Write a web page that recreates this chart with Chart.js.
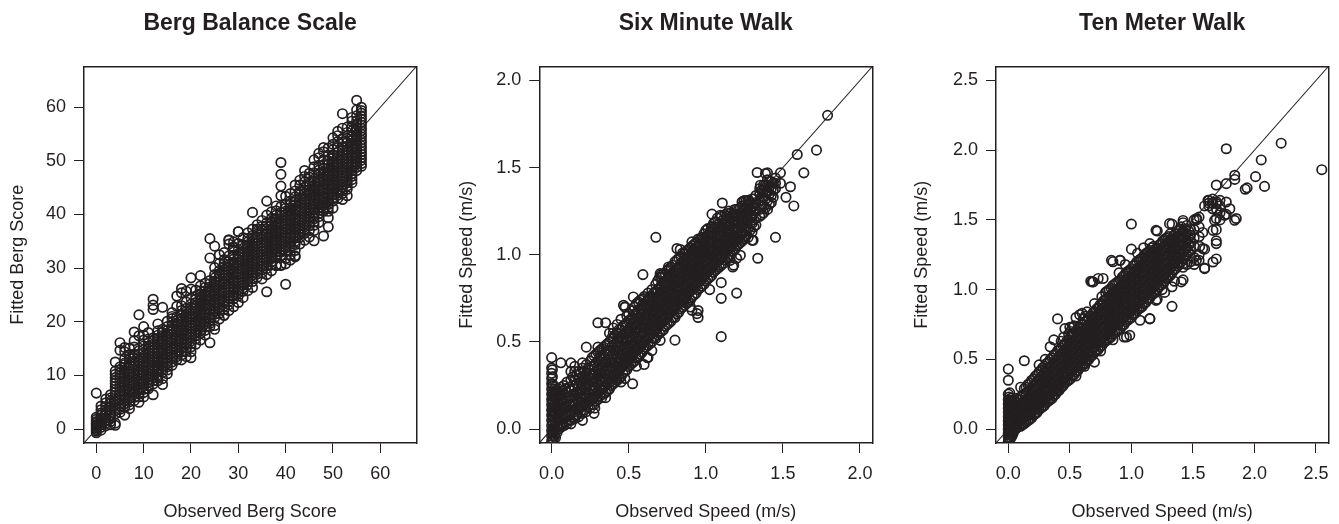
<!DOCTYPE html>
<html>
<head>
<meta charset="utf-8">
<script src="https://cdn.jsdelivr.net/npm/chart.js@4.4.1/dist/chart.umd.min.js"></script>
<style>
  body { margin: 0; background: #fff; width: 1339px; height: 524px; position: relative; overflow: hidden; }
  canvas { position: absolute; top: 0; }
</style>
</head>
<body>
<canvas id="berg" width="440" height="524" style="left:0px"></canvas>
<canvas id="six" width="445" height="524" style="left:440px"></canvas>
<canvas id="ten" width="454" height="524" style="left:885px"></canvas>
<script>
// Berg Balance Scale: observed score (integer) and the fitted scores seen in that column
var bergObserved = [0,1,2,3,4,5,6,7,8,9,10,11,12,13,14,15,16,17,18,19,20,21,22,23,24,25,26,27,28,29,30,31,32,33,34,35,36,37,38,39,40,41,42,43,44,45,46,47,48,49,50,51,52,53,54,55,56];
var bergFitted = [
  [-0.7,-0.4,-0.1,0.2,0.5,0.8,1.1,1.4,1.8,2.2,6.7],
  [-0.2,0.3,0.8,1.2,1.7,2.1,2.6,3.0,4.3],
  [0.6,1.1,1.6,2.1,2.6,3.1,3.6,4.2,4.9],
  [1.4,1.9,2.5,3.0,3.6,4.1,4.7,5.2,5.8,6.4],
  [0.7,1.1,2.8,3.4,3.9,4.5,5.1,5.6,6.2,6.8,7.3,7.9,8.5,9.0,9.6,10.2,10.8,12.5],
  [3.1,3.7,4.3,4.8,5.4,6.0,6.5,7.1,7.7,8.2,8.8,9.4,9.9,10.5,11.1,11.6,14.7,16.1],
  [2.6,4.1,4.7,5.3,5.8,6.4,7.0,7.5,8.1,8.7,9.2,9.8,10.4,10.9,11.5,12.3,13.1,14.4,15.2],
  [4.5,5.1,5.7,6.2,6.8,7.4,7.9,8.5,9.1,9.6,10.2,10.8,11.3,11.9,12.5,13.2,13.9,15.1],
  [5.3,5.9,6.5,7.0,7.6,8.2,8.7,9.3,9.9,10.4,11.0,11.6,12.1,12.7,13.3,14.0,15.3,18.1],
  [6.0,6.6,7.2,7.7,8.3,8.9,9.4,10.0,10.6,11.1,11.7,12.3,12.8,13.4,14.0,14.6,17.4,21.3],
  [6.8,7.4,8.0,8.5,9.1,9.7,10.2,10.8,11.4,11.9,12.5,13.1,13.6,14.2,14.8,15.5,16.6,19.1],
  [7.5,8.1,8.7,9.2,9.8,10.4,10.9,11.5,12.1,12.6,13.2,13.8,14.3,14.9,15.5,16.1,18.0],
  [6.4,8.4,9.0,9.6,10.1,10.7,11.3,11.8,12.4,13.0,13.5,14.1,14.7,15.2,15.8,16.4,17.0,22.3,23.1,24.2],
  [9.5,10.1,10.7,11.2,11.8,12.4,12.9,13.5,14.1,14.6,15.2,15.8,16.3,16.9,17.5,18.3,19.6],
  [9.4,10.6,11.2,11.7,12.3,12.9,13.4,14.0,14.6,15.1,15.7,16.3,16.8,17.4,18.0,18.6,22.7],
  [11.0,11.6,12.2,12.7,13.3,13.9,14.4,15.0,15.6,16.1,16.7,17.3,17.8,18.4,19.1,20.1],
  [11.9,12.5,13.1,13.6,14.2,14.8,15.3,15.9,16.5,17.0,17.6,18.2,18.7,19.3,19.9,20.6,21.7],
  [12.9,13.5,14.0,14.6,15.2,15.7,16.3,16.9,17.4,18.0,18.6,19.1,19.7,20.3,20.9,22.9,24.8],
  [12.9,13.8,14.4,15.0,15.5,16.1,16.7,17.2,17.8,18.4,18.9,19.5,20.1,20.6,21.2,22.1,25.4,26.2],
  [14.5,15.1,15.7,16.2,16.8,17.4,17.9,18.5,19.1,19.6,20.2,20.8,21.3,21.9,22.5,23.7,25.7],
  [14.4,15.3,15.9,16.4,17.0,17.6,18.1,18.7,19.3,19.8,20.4,21.0,21.5,22.1,22.7,23.3,24.4,26.1,28.2],
  [16.8,17.4,17.9,18.5,19.1,19.6,20.2,20.8,21.3,21.9,22.5,23.0,23.6,24.2,24.8,25.9],
  [17.8,18.4,18.9,19.5,20.1,20.6,21.2,21.8,22.3,22.9,23.5,24.0,24.6,25.2,25.8,26.7,28.6],
  [18.4,19.0,19.6,20.1,20.7,21.3,21.8,22.4,23.0,23.5,24.1,24.7,25.2,25.8,26.4,27.2],
  [16.1,19.1,19.7,20.3,20.8,21.4,22.0,22.5,23.1,23.7,24.2,24.8,25.4,25.9,26.5,27.1,27.7,31.9,35.5],
  [19.3,20.8,21.4,21.9,22.5,23.1,23.6,24.2,24.8,25.3,25.9,26.5,27.0,27.6,28.2,28.8,30.1,34.1],
  [21.6,22.2,22.7,23.3,23.9,24.4,25.0,25.6,26.1,26.7,27.3,27.8,28.4,29.0,29.6,30.9,32.5],
  [21.2,22.3,22.9,23.5,24.0,24.6,25.2,25.7,26.3,26.9,27.4,28.0,28.6,29.1,29.7,30.3,31.6,32.9],
  [23.2,23.8,24.4,24.9,25.5,26.1,26.6,27.2,27.8,28.3,28.9,29.5,30.0,30.6,31.2,32.3,34.5,35.3],
  [22.8,24.3,24.9,25.5,26.0,26.6,27.2,27.7,28.3,28.9,29.4,30.0,30.6,31.1,31.7,32.4,33.4,34.9],
  [24.8,25.4,25.9,26.5,27.1,27.6,28.2,28.8,29.3,29.9,30.5,31.0,31.6,32.2,32.7,33.4,34.6,36.8],
  [25.7,26.3,26.8,27.4,28.0,28.5,29.1,29.7,30.2,30.8,31.4,31.9,32.5,33.1,33.7,34.4,35.7],
  [26.9,27.5,28.0,28.6,29.2,29.7,30.3,30.9,31.4,32.0,32.6,33.1,33.7,34.3,34.9,35.5,36.6],
  [27.5,28.1,28.7,29.2,29.8,30.4,30.9,31.5,32.1,32.6,33.2,33.8,34.3,34.9,35.5,36.1,37.3,40.4],
  [28.3,28.9,29.5,30.0,30.6,31.2,31.7,32.3,32.9,33.4,34.0,34.6,35.1,35.7,36.3,36.9,38.1],
  [29.1,29.7,30.3,30.8,31.4,32.0,32.5,33.1,33.7,34.2,34.8,35.4,35.9,36.5,37.1,37.8,38.9],
  [25.6,29.9,30.5,31.1,31.6,32.2,32.8,33.3,33.9,34.5,35.0,35.6,36.2,36.7,37.3,37.9,38.5,39.9,42.5],
  [30.6,31.2,31.8,32.3,32.9,33.5,34.0,34.6,35.2,35.7,36.3,36.9,37.4,38.0,38.6,39.3,40.5],
  [30.5,31.9,32.5,33.0,33.6,34.2,34.7,35.3,35.9,36.4,37.0,37.6,38.1,38.7,39.3,39.9,40.7],
  [30.6,32.4,33.0,33.5,34.1,34.7,35.2,35.8,36.4,36.9,37.5,38.1,38.6,39.2,39.8,40.4,41.5,43.5,45.3,47.5,49.7],
  [27.0,31.8,33.2,33.8,34.3,34.9,35.5,36.0,36.6,37.2,37.7,38.3,38.9,39.4,40.0,40.6,41.2,41.9,43.4],
  [32.5,33.9,34.5,35.0,35.6,36.2,36.7,37.3,37.9,38.4,39.0,39.6,40.1,40.7,41.3,41.9,42.5,43.9],
  [32.3,34.4,35.0,35.6,36.1,36.7,37.3,37.8,38.4,39.0,39.5,40.1,40.7,41.2,41.8,42.4,43.3,44.4],
  [35.7,36.3,36.9,37.4,38.0,38.6,39.1,39.7,40.3,40.8,41.4,42.0,42.5,43.1,43.7,44.3,45.5,46.4],
  [36.5,37.1,37.7,38.2,38.8,39.4,39.9,40.5,41.1,41.6,42.2,42.8,43.3,43.9,44.5,45.1,46.1,47.1],
  [37.0,37.9,38.5,39.0,39.6,40.2,40.7,41.3,41.9,42.4,43.0,43.6,44.1,44.7,45.3,45.9,47.0,47.7],
  [35.1,38.0,38.6,39.2,39.7,40.3,40.9,41.4,42.0,42.6,43.1,43.7,44.3,44.8,45.4,46.0,46.6,47.8,48.9,50.2],
  [39.6,40.2,40.8,41.3,41.9,42.5,43.0,43.6,44.2,44.7,45.3,45.9,46.4,47.0,47.6,48.3,49.2,50.6,51.4],
  [36.0,40.6,41.2,41.7,42.3,42.9,43.4,44.0,44.6,45.1,45.7,46.3,46.8,47.4,48.0,48.6,49.3,50.2,51.7],
  [37.7,40.6,41.3,41.9,42.4,43.0,43.6,44.1,44.7,45.3,45.8,46.4,47.0,47.5,48.1,48.7,49.3,50.0,51.1,52.4],
  [42.5,43.1,43.7,44.2,44.8,45.4,45.9,46.5,47.1,47.6,48.2,48.8,49.3,49.9,50.5,51.1,52.1,53.1,54.3],
  [43.0,43.6,44.2,44.7,45.3,45.9,46.4,47.0,47.6,48.1,48.7,49.3,49.8,50.4,51.0,51.6,52.5,53.6,54.7],
  [43.9,44.5,45.1,45.6,46.2,46.8,47.3,47.9,48.5,49.0,49.6,50.2,50.7,51.3,51.9,52.5,53.5,54.2,56.1,58.8],
  [44.7,45.3,45.9,46.4,47.0,47.6,48.1,48.7,49.3,49.8,50.4,51.0,51.5,52.1,52.7,53.4,54.2,55.3,56.3],
  [45.9,46.5,47.1,47.6,48.2,48.8,49.3,49.9,50.5,51.0,51.6,52.2,52.7,53.3,53.9,54.5,55.6,56.3,57.4],
  [48.2,48.8,49.4,49.9,50.5,51.1,51.6,52.2,52.8,53.3,53.9,54.5,55.0,55.6,56.2,56.8,57.5,58.4,59.5,61.3],
  [49.0,49.5,50.1,50.6,51.2,51.7,52.3,52.8,53.4,53.9,54.5,55.0,55.6,56.1,56.7,57.2,57.8,58.3,58.9,59.4,60.0]
];
// scattered Berg points at the fringe of the band
var bergLooseX = [8,10,11,13,15,16,18,19,21,23,26,27,29,31,32,34,35,37,38,41,42,43,44,45,47,48,50,51,53,54,7,9,6,10,3,2,1,14,20,22,25,28,30,33,36,40,44,46,49,52,30,28,29,42,42,38,39,27];
var bergLooseY = [16.5,17.5,16.8,9.0,10.3,21.0,23.0,13.5,15.8,17.5,20.5,30.8,33.8,24.5,25.8,37.3,28.0,29.5,41.6,31.5,45.5,34.5,48.2,35.8,38.5,52.5,41.2,55.5,43.5,58.1,3.8,5.0,12.0,6.0,0.8,5.6,3.6,8.3,13.3,16.6,18.6,22.1,23.6,26.4,28.8,30.8,35.2,37.0,39.4,42.8,36.8,35.2,34.0,32.1,33.3,30.5,30.5,21.2];
var bergRange = [-2.6, 67.6];
var bergTicks = [0, 10, 20, 30, 40, 50, 60];

// Six Minute Walk: observed speed (m/s) and fitted speeds at that observed value
var sixObserved = [0,0.01,0.025,0.045,0.06,0.08,0.1,0.125,0.15,0.175,0.2,0.225,0.25,0.275,0.3,0.325,0.35,0.375,0.4,0.425,0.45,0.475,0.5,0.525,0.55,0.575,0.6,0.625,0.65,0.675,0.7,0.725,0.75,0.775,0.8,0.825,0.85,0.875,0.9,0.925,0.95,0.975,1.0,1.025,1.05,1.075,1.1,1.125,1.15,1.175,1.2,1.225,1.25,1.275,1.3,1.325,1.337,1.35,1.375,1.4,1.425,1.452,1.484,1.52,1.549,1.571,1.593,1.636,1.718,1.79,0.676,0.592,0.466,0.71,0.77,0.834,1.04,1.107,1.333,1.247,1.307,0.62,
  0.005,0.018,0.035,0.053,0.07,0.09,0.1125,0.1375,0.1625,0.1875,0.2125,0.2375,0.2625,0.2875,0.3125,0.3375,0.3625,0.3875,0.4125,0.4375,0.4625,0.4875,0.5125,0.5375,0.5625,0.5875,0.6125,0.6375,0.6625,0.6875,0.7125,0.7375,0.7625,0.7875,0.8125,0.8375,0.8625,0.8875,0.9125,0.9375,0.9625,0.9875,1.0125,1.0375,1.0625,1.0875,1.1125,1.1375,1.1625,1.1875,1.2125,1.2375,1.2625,1.2875,1.3125,1.3625,1.3875,1.4125,1.4375];
var sixFitted = [
  [-0.07,-0.04,-0.01,0.02,0.05,0.08,0.11,0.14,0.17,0.2,0.23,0.26,0.29,0.32,0.35,0.41],
  [-0.06,-0.02,0.03,0.07,0.12,0.16,0.21,0.25],
  [-0.05,0.0,0.04,0.09,0.13,0.18,0.22],
  [0.0,0.05,0.09,0.14,0.19,0.23],
  [0.01,0.06,0.1,0.15,0.19,0.24,0.38],
  [0.02,0.06,0.11,0.15,0.2,0.25],
  [0.03,0.07,0.12,0.16,0.21,0.27],
  [0.03,0.05,0.09,0.13,0.18,0.22,0.28,0.33,0.38],
  [0.06,0.1,0.14,0.19,0.23,0.28,0.33],
  [0.07,0.11,0.16,0.2,0.25,0.29,0.33],
  [0.09,0.13,0.17,0.22,0.26,0.3,0.35],
  [0.1,0.14,0.19,0.23,0.28,0.32,0.37,0.47],
  [0.12,0.16,0.2,0.25,0.29,0.34,0.39],
  [0.09,0.14,0.18,0.22,0.27,0.31,0.36,0.42],
  [0.17,0.21,0.26,0.3,0.34,0.39,0.44,0.61],
  [0.18,0.23,0.27,0.32,0.36,0.4,0.46],
  [0.21,0.25,0.29,0.34,0.38,0.43,0.48,0.61],
  [0.23,0.27,0.31,0.36,0.4,0.45,0.5,0.55],
  [0.26,0.3,0.34,0.38,0.43,0.47,0.52,0.58],
  [0.28,0.32,0.36,0.41,0.45,0.5,0.55,0.6],
  [0.3,0.35,0.39,0.43,0.48,0.52,0.57,0.63],
  [0.29,0.33,0.37,0.41,0.46,0.5,0.55,0.6,0.7],
  [0.36,0.4,0.44,0.48,0.53,0.57,0.62,0.66],
  [0.26,0.38,0.42,0.47,0.51,0.55,0.6,0.64,0.68],
  [0.41,0.45,0.49,0.53,0.58,0.62,0.66,0.72],
  [0.43,0.47,0.51,0.56,0.6,0.64,0.69,0.74],
  [0.37,0.46,0.5,0.54,0.58,0.63,0.67,0.71,0.76],
  [0.41,0.48,0.52,0.57,0.61,0.65,0.7,0.74,0.78],
  [0.5,0.55,0.59,0.63,0.68,0.72,0.76,0.8],
  [0.52,0.57,0.61,0.66,0.7,0.74,0.79,0.83],
  [0.55,0.6,0.64,0.68,0.73,0.77,0.81,0.87],
  [0.57,0.62,0.66,0.71,0.75,0.79,0.84,0.89],
  [0.6,0.64,0.69,0.73,0.77,0.82,0.86,0.91],
  [0.62,0.67,0.71,0.75,0.8,0.84,0.88,0.93],
  [0.51,0.64,0.69,0.73,0.78,0.82,0.86,0.91,0.96],
  [0.67,0.72,0.76,0.8,0.85,0.89,0.93,0.98],
  [0.7,0.74,0.78,0.83,0.87,0.91,0.96,1.01],
  [0.72,0.76,0.81,0.85,0.89,0.94,0.98,1.02],
  [0.7,0.74,0.79,0.83,0.87,0.92,0.96,1.0,1.04],
  [0.77,0.81,0.85,0.9,0.94,0.98,1.03,1.06],
  [0.64,0.68,0.8,0.84,0.88,0.92,0.97,1.01,1.05,1.09],
  [0.82,0.86,0.9,0.95,0.99,1.03,1.08,1.1],
  [0.85,0.89,0.93,0.97,1.02,1.06,1.1,1.14],
  [0.8,0.87,0.91,0.95,1.0,1.04,1.08,1.13],
  [0.9,0.94,0.98,1.02,1.07,1.11,1.15,1.18],
  [0.92,0.96,1.0,1.05,1.09,1.13,1.17,1.21],
  [0.53,0.75,0.84,0.94,0.98,1.03,1.07,1.11,1.16,1.22],
  [0.97,1.01,1.05,1.1,1.14,1.18,1.23],
  [0.99,1.04,1.08,1.12,1.17,1.21,1.25],
  [0.93,1.02,1.06,1.1,1.15,1.19,1.23],
  [0.78,0.98,1.05,1.09,1.13,1.18,1.22,1.26],
  [1.07,1.11,1.16,1.2,1.24,1.27],
  [1.09,1.14,1.18,1.22,1.26,1.31],
  [1.1,1.15,1.2,1.25,1.29,1.31],
  [1.13,1.18,1.22,1.27,1.32],
  [1.17,1.21,1.25,1.3,1.34],
  [0.98],
  [1.22,1.26,1.31,1.35,1.38],
  [1.24,1.28,1.33,1.37,1.4],
  [1.26,1.31,1.36,1.4,1.43,1.47],
  [1.3,1.34,1.38,1.42],
  [1.1,1.38,1.41,1.44],
  [1.47,1.41],
  [1.33],
  [1.39],
  [1.28],
  [1.575],
  [1.47],
  [1.6],
  [1.8],
  [1.1],
  [0.886],
  [0.71],
  [0.886],
  [0.91],
  [1.03],
  [1.233],
  [1.297],
  [1.472],
  [1.31],
  [1.083],
  [0.41],
  [-0.06,-0.03,0.0,0.04,0.07,0.1,0.13,0.16,0.19,0.22,0.26,0.3,0.34],
  [-0.04,0.01,0.05,0.1,0.14,0.19,0.23],
  [-0.02,0.02,0.07,0.11,0.16,0.2],
  [0.02,0.07,0.12,0.17,0.21],
  [0.03,0.08,0.13,0.17,0.22],
  [0.04,0.09,0.13,0.18,0.23],
  [0.05,0.1,0.14,0.19,0.24],
  [0.07,0.11,0.16,0.2,0.25,0.3],
  [0.08,0.12,0.17,0.21,0.26,0.31],
  [0.1,0.14,0.18,0.23,0.27,0.32],
  [0.11,0.15,0.2,0.24,0.29,0.33],
  [0.13,0.17,0.21,0.26,0.3,0.35],
  [0.14,0.18,0.23,0.27,0.32,0.36,0.41],
  [0.16,0.2,0.24,0.29,0.33,0.38,0.43],
  [0.19,0.23,0.28,0.32,0.37,0.41,0.45],
  [0.2,0.24,0.29,0.33,0.38,0.42,0.47],
  [0.22,0.27,0.31,0.36,0.4,0.45,0.49],
  [0.25,0.29,0.33,0.38,0.42,0.47,0.52],
  [0.27,0.31,0.36,0.4,0.45,0.49,0.54],
  [0.29,0.34,0.38,0.43,0.47,0.52,0.57],
  [0.32,0.36,0.41,0.45,0.5,0.54,0.59],
  [0.34,0.38,0.43,0.47,0.52,0.56,0.61,0.65],
  [0.37,0.41,0.46,0.5,0.55,0.59,0.63],
  [0.39,0.44,0.48,0.53,0.57,0.61,0.66,0.7],
  [0.42,0.46,0.51,0.55,0.6,0.64,0.68,0.73],
  [0.44,0.49,0.53,0.58,0.62,0.66,0.71],
  [0.47,0.51,0.56,0.6,0.65,0.69,0.73],
  [0.49,0.54,0.58,0.63,0.67,0.71,0.76],
  [0.52,0.56,0.61,0.65,0.69,0.74,0.78],
  [0.54,0.58,0.63,0.67,0.72,0.76,0.8,0.85],
  [0.56,0.61,0.65,0.7,0.74,0.78,0.83,0.87],
  [0.59,0.63,0.68,0.72,0.76,0.81,0.85,0.89],
  [0.61,0.66,0.7,0.74,0.79,0.83,0.87,0.92],
  [0.64,0.68,0.73,0.77,0.81,0.86,0.9,0.94],
  [0.66,0.71,0.75,0.79,0.84,0.88,0.92,0.97],
  [0.69,0.73,0.77,0.82,0.86,0.9,0.95,0.99],
  [0.71,0.75,0.8,0.84,0.88,0.93,0.97,1.01],
  [0.73,0.78,0.82,0.86,0.91,0.95,0.99,1.03],
  [0.76,0.8,0.84,0.89,0.93,0.97,1.01,1.05],
  [0.78,0.82,0.87,0.91,0.95,0.99,1.04,1.07],
  [0.81,0.85,0.89,0.93,0.97,1.02,1.06,1.09],
  [0.83,0.87,0.91,0.96,1.0,1.04,1.08,1.12],
  [0.86,0.9,0.94,0.98,1.03,1.07,1.11,1.15],
  [0.88,0.92,0.96,1.01,1.05,1.09,1.13,1.16],
  [0.91,0.95,0.99,1.03,1.07,1.11,1.15,1.19],
  [0.93,0.97,1.01,1.06,1.1,1.14,1.18],
  [0.95,0.99,1.04,1.08,1.12,1.16,1.2],
  [0.98,1.02,1.06,1.1,1.14,1.18,1.22],
  [1.0,1.04,1.09,1.13,1.17,1.21,1.24],
  [1.03,1.07,1.11,1.15,1.19,1.23,1.26],
  [1.06,1.1,1.14,1.18,1.22,1.26],
  [1.08,1.12,1.16,1.2,1.24,1.28],
  [1.11,1.15,1.19,1.23,1.27,1.31],
  [1.14,1.18,1.22,1.26,1.3],
  [1.16,1.2,1.24,1.28,1.32],
  [1.23,1.28,1.33,1.37],
  [1.27,1.32,1.36,1.4],
  [1.29,1.35,1.39,1.42],
  [1.33,1.37,1.41]
];
// scattered Six Minute Walk points at the fringe of the band
var sixLooseX = [1.387,1.159,1.224,1.181,1.3,1.257,0.943,0.91,0.726,0.704,0.813,0.91,0.975,1.04,1.094,1.138,1.235,1.278,1.354,0.704,0.758,0.66,0.596,0.53,0.477,0.35,0.45,0.55,0.65,0.28,0.2,0.4,0.3,0.2,0.15];
var sixLooseY = [1.466,0.968,0.997,0.94,1.083,1.102,0.662,0.681,0.749,0.509,1.036,1.074,1.093,1.16,1.227,1.237,1.303,1.313,1.399,0.892,0.93,0.758,0.749,0.758,0.7,0.18,0.27,0.36,0.45,0.12,0.05,0.55,0.47,0.38,0.36];
var sixRange = [-0.08, 2.08];
var sixTicks = [0, 0.5, 1, 1.5, 2];

// Ten Meter Walk: observed speed (m/s) and fitted speeds at that observed value
var tenObserved = [0,0.012,0.03,0.05,0.07,0.1,0.13,0.16,0.19,0.22,0.25,0.28,0.31,0.34,0.37,0.4,0.43,0.46,0.49,0.52,0.55,0.58,0.61,0.64,0.67,0.7,0.73,0.76,0.79,0.82,0.85,0.88,0.91,0.94,0.97,1.0,1.03,1.06,1.09,1.12,1.15,1.18,1.21,1.24,1.27,1.3,1.33,1.36,1.39,1.42,1.45,1.48,1.51,1.55,1.595,1.63,1.66,1.69,1.72,1.771,1.8,1.84,1.852,1.925,1.94,2.009,2.055,2.082,2.217,2.547,0.681,0.838,0.906,1.53,
  0.006,0.021,0.04,0.06,0.085,0.115,0.145,0.175,0.205,0.235,0.265,0.295,0.325,0.355,0.385,0.415,0.445,0.475,0.505,0.535,0.565,0.595,0.625,0.655,0.685,0.715,0.745,0.775,0.805,0.835,0.865,0.895,0.925,0.955,0.985,1.015,1.045,1.075,1.105,1.135,1.165,1.195,1.225,1.255,1.285,1.315,1.345,1.375,1.405,1.435,1.465];
var tenFitted = [
  [-0.09,-0.06,-0.03,0.0,0.03,0.06,0.09,0.12,0.15,0.18,0.21,0.25,0.35,0.43],
  [-0.08,-0.04,0.0,0.04,0.08,0.12,0.16,0.2,0.26],
  [-0.05,0.0,0.04,0.08,0.12,0.16,0.2],
  [0.0,0.04,0.08,0.12,0.16,0.21],
  [0.01,0.05,0.09,0.13,0.17,0.22],
  [0.02,0.06,0.1,0.14,0.18,0.23,0.3],
  [0.04,0.08,0.12,0.16,0.2,0.25,0.29,0.49],
  [0.06,0.1,0.14,0.18,0.22,0.27,0.32],
  [0.08,0.12,0.16,0.2,0.24,0.29,0.35],
  [0.11,0.15,0.19,0.23,0.27,0.32,0.38],
  [0.14,0.18,0.22,0.26,0.3,0.35,0.41],
  [0.16,0.2,0.24,0.28,0.33,0.38,0.44],
  [0.19,0.23,0.27,0.31,0.36,0.41,0.47],
  [0.21,0.25,0.29,0.34,0.39,0.44,0.5,0.59],
  [0.24,0.28,0.32,0.37,0.42,0.47,0.53,0.64],
  [0.27,0.31,0.35,0.4,0.45,0.5,0.56,0.79],
  [0.3,0.34,0.38,0.43,0.48,0.53,0.58,0.63],
  [0.33,0.37,0.41,0.46,0.51,0.56,0.61,0.72],
  [0.35,0.39,0.44,0.49,0.54,0.59,0.64,0.68],
  [0.38,0.42,0.47,0.52,0.57,0.62,0.67,0.73],
  [0.41,0.45,0.5,0.55,0.6,0.65,0.7,0.8],
  [0.44,0.48,0.53,0.58,0.63,0.68,0.73,0.82],
  [0.46,0.5,0.55,0.6,0.65,0.7,0.75,0.79],
  [0.49,0.53,0.58,0.63,0.68,0.73,0.78,0.84],
  [0.52,0.56,0.61,0.66,0.71,0.76,0.81,1.06],
  [0.48,0.55,0.59,0.64,0.69,0.74,0.79,0.84,0.9],
  [0.57,0.62,0.67,0.72,0.77,0.82,0.87,1.08],
  [0.6,0.65,0.7,0.75,0.8,0.85,0.9,0.95],
  [0.63,0.68,0.73,0.78,0.83,0.88,0.93,0.98],
  [0.65,0.7,0.75,0.8,0.85,0.9,0.95,1.0],
  [0.68,0.73,0.78,0.83,0.88,0.93,0.98,1.03,1.2],
  [0.7,0.75,0.8,0.85,0.9,0.95,1.0,1.05],
  [0.72,0.77,0.82,0.87,0.92,0.97,1.02,1.07,1.21],
  [0.66,0.75,0.8,0.85,0.9,0.95,1.0,1.05,1.1],
  [0.78,0.83,0.88,0.93,0.98,1.03,1.08,1.13],
  [0.8,0.85,0.9,0.95,1.0,1.05,1.1,1.15,1.29,1.47],
  [0.83,0.88,0.93,0.98,1.03,1.08,1.13,1.18],
  [0.86,0.91,0.96,1.01,1.06,1.11,1.16,1.21],
  [0.88,0.93,0.98,1.03,1.08,1.13,1.18,1.23],
  [0.91,0.96,1.01,1.06,1.11,1.16,1.21,1.26],
  [0.79,0.94,0.99,1.04,1.09,1.14,1.19,1.24,1.28],
  [0.97,1.02,1.07,1.12,1.17,1.22,1.27,1.31],
  [0.93,1.0,1.05,1.1,1.15,1.2,1.25,1.3,1.42],
  [1.03,1.08,1.13,1.18,1.23,1.28,1.33],
  [0.98,1.06,1.11,1.16,1.21,1.26,1.31,1.36],
  [1.09,1.14,1.19,1.24,1.29,1.34,1.38],
  [0.88,1.02,1.12,1.17,1.22,1.27,1.32,1.36,1.47],
  [1.15,1.2,1.25,1.3,1.35,1.4],
  [1.18,1.23,1.28,1.33,1.38,1.43],
  [1.07,1.16,1.22,1.27,1.32,1.37,1.42,1.48],
  [1.18,1.25,1.3,1.35,1.4,1.46],
  [1.2,1.28,1.34,1.39,1.43],
  [1.18,1.23,1.31,1.37,1.43,1.5],
  [1.21,1.25,1.38,1.45,1.52],
  [1.155,1.29,1.6],
  [1.6,1.62,1.64],
  [1.58,1.62,1.65],
  [1.22,1.35,1.43,1.51,1.58,1.63,1.75],
  [1.5,1.55,1.6,1.64],
  [1.54,1.76,2.01],
  [1.58],
  [1.79,1.82],
  [1.51],
  [1.72],
  [1.73],
  [1.81],
  [1.93],
  [1.74],
  [2.05],
  [1.86],
  [1.055],
  [1.21],
  [1.21],
  [1.5],
  [-0.08,-0.04,-0.01,0.02,0.05,0.08,0.11,0.14,0.17,0.2,0.23],
  [-0.06,-0.02,0.02,0.06,0.1,0.14,0.18,0.22],
  [-0.03,0.02,0.06,0.1,0.14,0.18],
  [0.0,0.03,0.07,0.11,0.15,0.19],
  [0.02,0.05,0.09,0.13,0.17,0.21],
  [0.03,0.07,0.11,0.15,0.19,0.24],
  [0.05,0.09,0.13,0.17,0.21,0.26,0.3],
  [0.07,0.11,0.15,0.19,0.23,0.28,0.33],
  [0.1,0.14,0.18,0.22,0.26,0.31,0.36],
  [0.12,0.16,0.2,0.25,0.29,0.34,0.39],
  [0.15,0.19,0.23,0.27,0.32,0.37,0.42],
  [0.17,0.21,0.26,0.3,0.35,0.4,0.45],
  [0.2,0.24,0.28,0.33,0.38,0.43,0.48],
  [0.22,0.27,0.31,0.36,0.41,0.46,0.51],
  [0.25,0.29,0.34,0.39,0.44,0.49,0.54],
  [0.28,0.32,0.37,0.42,0.47,0.52,0.57],
  [0.31,0.35,0.4,0.45,0.5,0.55,0.6],
  [0.34,0.38,0.43,0.48,0.53,0.58,0.63],
  [0.36,0.41,0.46,0.51,0.56,0.61,0.66,0.7],
  [0.39,0.44,0.49,0.54,0.59,0.64,0.69,0.74],
  [0.42,0.47,0.52,0.57,0.62,0.67,0.72],
  [0.45,0.5,0.55,0.6,0.65,0.7,0.75],
  [0.47,0.52,0.57,0.62,0.67,0.72,0.77,0.81],
  [0.5,0.55,0.6,0.65,0.7,0.75,0.8],
  [0.53,0.58,0.63,0.68,0.73,0.78,0.83],
  [0.56,0.61,0.66,0.71,0.76,0.81,0.86],
  [0.59,0.64,0.69,0.74,0.79,0.84,0.89],
  [0.62,0.67,0.72,0.77,0.82,0.87,0.92],
  [0.64,0.69,0.74,0.79,0.84,0.89,0.94,0.99],
  [0.66,0.71,0.76,0.81,0.86,0.91,0.96,1.01],
  [0.69,0.74,0.79,0.84,0.89,0.94,0.99,1.04],
  [0.71,0.76,0.81,0.86,0.91,0.96,1.01,1.06],
  [0.74,0.79,0.84,0.89,0.94,0.99,1.04,1.09],
  [0.77,0.82,0.87,0.92,0.97,1.02,1.07,1.12],
  [0.79,0.84,0.89,0.94,0.99,1.04,1.09,1.14],
  [0.82,0.87,0.92,0.97,1.02,1.07,1.12,1.17],
  [0.85,0.9,0.95,1.0,1.05,1.1,1.15,1.2],
  [0.87,0.92,0.97,1.02,1.07,1.12,1.17,1.22],
  [0.9,0.95,1.0,1.05,1.1,1.15,1.2,1.25],
  [0.93,0.98,1.03,1.08,1.13,1.18,1.23,1.27],
  [0.96,1.01,1.06,1.11,1.16,1.21,1.26,1.3],
  [0.99,1.04,1.09,1.14,1.19,1.24,1.29],
  [1.02,1.07,1.12,1.17,1.22,1.27,1.32],
  [1.05,1.1,1.15,1.2,1.25,1.3,1.35],
  [1.08,1.13,1.18,1.23,1.28,1.33,1.37],
  [1.1,1.15,1.2,1.25,1.3,1.35,1.4],
  [1.14,1.19,1.24,1.29,1.34,1.39],
  [1.17,1.22,1.27,1.32,1.37,1.42],
  [1.2,1.25,1.3,1.35,1.4,1.45],
  [1.23,1.28,1.33,1.38,1.43],
  [1.27,1.32,1.37,1.42]
];
// scattered Ten Meter Walk points at the fringe of the band
var tenLooseX = [0.77,1.2,1.31,1.42,1.53,1.58,1.555,1.622,1.69,1.771,1.839,1.757,1.676,1.663,1.69,1.58,1.663,1.595,1.528,1.42,1.406,1.2,1.15,1.07,0.96,0.987,0.69,0.9,0.95,1.05,1.1,1.15,0.6,0.5,0.45,0.3,0.25,0.62,0.75,0.85,1.25,1.35,0.4,0.55];
var tenLooseY = [1.08,1.425,1.473,1.496,1.51,1.41,1.31,1.64,1.617,1.628,1.497,1.533,1.497,1.425,1.33,1.294,1.198,1.15,1.21,1.186,1.055,0.923,0.792,0.78,0.66,0.672,1.055,1.12,1.18,1.26,1.3,1.33,0.83,0.73,0.66,0.5,0.46,0.45,0.56,0.64,1.0,1.06,0.28,0.38];
var tenRange = [-0.1, 2.6];
var tenTicks = [0, 0.5, 1, 1.5, 2, 2.5];

var ink = '#231f20';
var family = '"Liberation Sans", Arial, Helvetica, sans-serif';

function toPoints(observed, fitted, looseX, looseY) {
    var pts = [];
    observed.forEach(function (x, i) {
        fitted[i].forEach(function (y) { pts.push({ x: x, y: y }); });
    });
    looseX.forEach(function (x, i) { pts.push({ x: x, y: looseY[i] }); });
    return pts;
}

// edge-only axis used to close the box on the top / right
function frameAxis(position) {
    return {
        position: position,
        display: true,
        grid: { display: false },
        ticks: { display: false },
        border: { display: true, color: ink, width: 1.5 },
        afterFit: function (s) { if (position === 'top') s.height = 0; else s.width = 0; }
    };
}

window.createPanel = function (canvasId, p) {
    var ctx = document.getElementById(canvasId).getContext('2d');
    var fmt = function (v) { return p.decimals ? Number(v).toFixed(1) : String(v); };
    return new Chart(ctx, {
        type: 'scatter',
        data: {
            datasets: [{
                type: 'line',
                data: [{ x: p.range[0], y: p.range[0] }, { x: p.range[1], y: p.range[1] }],
                borderColor: ink,
                borderWidth: 1.1,
                pointRadius: 0,
                order: 0
            }, {
                data: toPoints(p.observed, p.fitted, p.looseX, p.looseY),
                pointStyle: 'circle',
                pointRadius: 4.7,
                borderWidth: 1.7,
                borderColor: ink,
                backgroundColor: 'rgba(0,0,0,0)',
                order: 1
            }]
        },
        options: {
            responsive: false,
            animation: false,
            events: [],
            layout: { padding: { left: 0, top: 0, bottom: 0, right: p.rightPad } },
            plugins: {
                legend: { display: false },
                tooltip: { enabled: false },
                title: {
                    display: true,
                    text: p.title,
                    fullSize: false,
                    color: ink,
                    font: { family: family, size: 23, weight: 'bold', lineHeight: 1.2 },
                    padding: { top: 10, bottom: 28.9 }
                }
            },
            scales: {
                x: {
                    type: 'linear',
                    min: p.range[0], max: p.range[1],
                    afterBuildTicks: function (s) { s.ticks = p.ticks.map(function (v) { return { value: v }; }); },
                    afterFit: function (s) { s.height = 81; },
                    grid: { drawOnChartArea: false, drawTicks: true, tickLength: 10, color: ink, lineWidth: 1 },
                    border: { display: true, color: ink, width: 1.5 },
                    ticks: { color: ink, padding: 10, maxRotation: 0, font: { family: family, size: 18 }, callback: fmt },
                    title: { display: true, text: p.xTitle, color: ink, padding: { top: 0, bottom: 1 }, font: { family: family, size: 18 } }
                },
                y: {
                    type: 'linear',
                    min: p.range[0], max: p.range[1],
                    afterBuildTicks: function (s) { s.ticks = p.ticks.map(function (v) { return { value: v }; }); },
                    afterFit: function (s) { s.width = p.leftWidth; },
                    grid: { drawOnChartArea: false, drawTicks: true, tickLength: 10, color: ink, lineWidth: 1 },
                    border: { display: true, color: ink, width: 1.5 },
                    ticks: { color: ink, padding: 8, font: { family: family, size: 18 }, callback: fmt },
                    title: { display: true, text: p.yTitle, color: ink, padding: { top: p.yTitlePad, bottom: 0 }, font: { family: family, size: 18 } }
                },
                xTop: frameAxis('top'),
                yRight: frameAxis('right')
            }
        }
    });
};

createPanel('berg', {
    title: 'Berg Balance Scale', xTitle: 'Observed Berg Score', yTitle: 'Fitted Berg Score',
    observed: bergObserved, fitted: bergFitted, looseX: bergLooseX, looseY: bergLooseY,
    range: bergRange, ticks: bergTicks, decimals: false,
    leftWidth: 84, rightPad: 23.7, yTitlePad: 7
});
createPanel('six', {
    title: 'Six Minute Walk', xTitle: 'Observed Speed (m/s)', yTitle: 'Fitted Speed (m/s)',
    observed: sixObserved, fitted: sixFitted, looseX: sixLooseX, looseY: sixLooseY,
    range: sixRange, ticks: sixTicks, decimals: true,
    leftWidth: 99.3, rightPad: 12.7, yTitlePad: 16.7
});
createPanel('ten', {
    title: 'Ten Meter Walk', xTitle: 'Observed Speed (m/s)', yTitle: 'Fitted Speed (m/s)',
    observed: tenObserved, fitted: tenFitted, looseX: tenLooseX, looseY: tenLooseY,
    range: tenRange, ticks: tenTicks, decimals: true,
    leftWidth: 111, rightPad: 10.7, yTitlePad: 26.7
});
</script>
</body>
</html>
